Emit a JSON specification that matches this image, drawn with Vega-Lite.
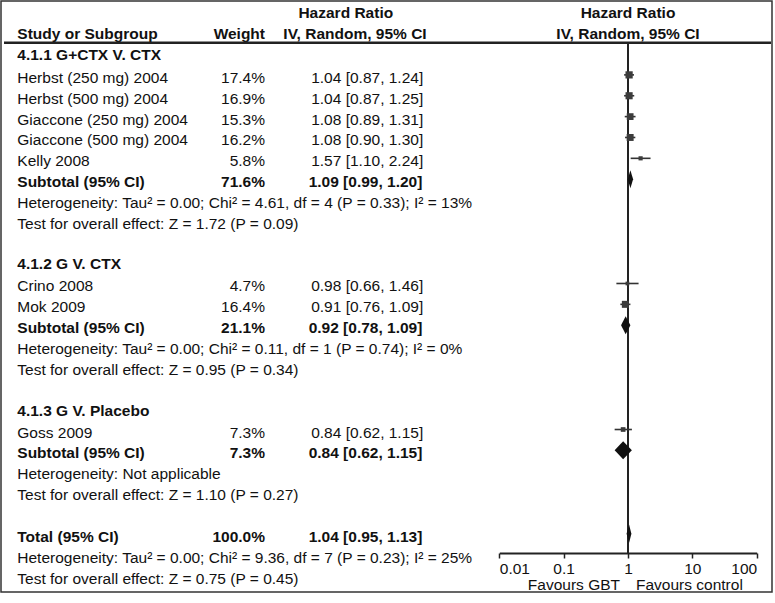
{
  "$schema": "https://vega.github.io/schema/vega-lite/v6.json",
  "width": 771,
  "height": 552,
  "autosize": {"type": "none"},
  "padding": {"left": 1, "top": 1, "right": 3, "bottom": 50},
  "background": "white",
  "config": {
    "view": {"stroke": null},
    "font": "Liberation Sans",
    "text": {"font": "Liberation Sans", "fontSize": 15.5, "color": "#111111", "baseline": "middle", "dy": 3}
  },
  "datasets": {
    "results": [
      {"row": 3, "study": "Herbst (250 mg) 2004", "weight": 0.174, "hr": 1.04, "lo": 0.87, "hi": 1.24, "ci": "1.04 [0.87, 1.24]", "kind": "study"},
      {"row": 4, "study": "Herbst (500 mg) 2004", "weight": 0.169, "hr": 1.04, "lo": 0.87, "hi": 1.25, "ci": "1.04 [0.87, 1.25]", "kind": "study"},
      {"row": 5, "study": "Giaccone (250 mg) 2004", "weight": 0.153, "hr": 1.08, "lo": 0.89, "hi": 1.31, "ci": "1.08 [0.89, 1.31]", "kind": "study"},
      {"row": 6, "study": "Giaccone (500 mg) 2004", "weight": 0.162, "hr": 1.08, "lo": 0.90, "hi": 1.30, "ci": "1.08 [0.90, 1.30]", "kind": "study"},
      {"row": 7, "study": "Kelly 2008", "weight": 0.058, "hr": 1.57, "lo": 1.10, "hi": 2.24, "ci": "1.57 [1.10, 2.24]", "kind": "study"},
      {"row": 8, "study": "Subtotal (95% CI)", "weight": 0.716, "hr": 1.09, "lo": 0.99, "hi": 1.20, "ci": "1.09 [0.99, 1.20]", "kind": "pooled"},
      {"row": 13, "study": "Crino 2008", "weight": 0.047, "hr": 0.98, "lo": 0.66, "hi": 1.46, "ci": "0.98 [0.66, 1.46]", "kind": "study"},
      {"row": 14, "study": "Mok 2009", "weight": 0.164, "hr": 0.91, "lo": 0.76, "hi": 1.09, "ci": "0.91 [0.76, 1.09]", "kind": "study"},
      {"row": 15, "study": "Subtotal (95% CI)", "weight": 0.211, "hr": 0.92, "lo": 0.78, "hi": 1.09, "ci": "0.92 [0.78, 1.09]", "kind": "pooled"},
      {"row": 20, "study": "Goss 2009", "weight": 0.073, "hr": 0.84, "lo": 0.62, "hi": 1.15, "ci": "0.84 [0.62, 1.15]", "kind": "study"},
      {"row": 21, "study": "Subtotal (95% CI)", "weight": 0.073, "hr": 0.84, "lo": 0.62, "hi": 1.15, "ci": "0.84 [0.62, 1.15]", "kind": "pooled"},
      {"row": 25, "study": "Total (95% CI)", "weight": 1.0, "hr": 1.04, "lo": 0.95, "hi": 1.13, "ci": "1.04 [0.95, 1.13]", "kind": "pooled"}
    ],
    "notes": [
      {"row": 1.9, "text": "4.1.1 G+CTX V. CTX", "style": "group"},
      {"row": 9, "text": "Heterogeneity: Tau² = 0.00; Chi² = 4.61, df = 4 (P = 0.33); I² = 13%", "style": "note"},
      {"row": 10, "text": "Test for overall effect: Z = 1.72 (P = 0.09)", "style": "note"},
      {"row": 11.93, "text": "4.1.2 G V. CTX", "style": "group"},
      {"row": 16, "text": "Heterogeneity: Tau² = 0.00; Chi² = 0.11, df = 1 (P = 0.74); I² = 0%", "style": "note"},
      {"row": 17, "text": "Test for overall effect: Z = 0.95 (P = 0.34)", "style": "note"},
      {"row": 18.95, "text": "4.1.3 G V. Placebo", "style": "group"},
      {"row": 22, "text": "Heterogeneity: Not applicable", "style": "note"},
      {"row": 23, "text": "Test for overall effect: Z = 1.10 (P = 0.27)", "style": "note"},
      {"row": 26, "text": "Heterogeneity: Tau² = 0.00; Chi² = 9.36, df = 7 (P = 0.23); I² = 25%", "style": "note"},
      {"row": 27, "text": "Test for overall effect: Z = 0.75 (P = 0.45)", "style": "note"}
    ],
    "headers": [
      {"row": -0.1, "text": "Hazard Ratio", "column": "effectTitle"},
      {"row": 0.9, "text": "IV, Random, 95% CI", "column": "effectMethod"},
      {"row": 0.9, "text": "Study or Subgroup", "column": "study"},
      {"row": 0.9, "text": "Weight", "column": "weight"}
    ],
    "favours": [
      {"side": "left", "text": "Favours GBT"},
      {"side": "right", "text": "Favours control"}
    ]
  },
  "resolve": {"scale": {"x": "independent"}, "axis": {"x": "independent"}},
  "layer": [
    {
      "layer": [
        {
          "data": {"values": [{"frame": "border"}]},
          "mark": {"type": "rect", "filled": false, "stroke": "#333333", "strokeWidth": 1.5},
          "encoding": {
            "x": {"datum": 0, "type": "quantitative", "scale": {"domain": [0, 771], "range": [0, 771], "nice": false, "zero": false}, "axis": null},
            "x2": {"datum": 771},
            "y": {"datum": -0.542, "type": "quantitative", "scale": {"domain": [-0.542, 25.92], "reverse": true, "nice": false, "zero": false}, "axis": null},
            "y2": {"datum": 27.79}
          }
        },
        {
          "data": {"name": "headers"},
          "transform": [{"filter": "datum.column === 'study'"}],
          "mark": {"type": "text", "align": "left", "fontWeight": "bold"},
          "encoding": {
            "x": {"datum": 16.3, "type": "quantitative", "scale": {"domain": [0, 771], "range": [0, 771], "nice": false, "zero": false}, "axis": null},
            "y": {"field": "row", "type": "quantitative", "scale": {"domain": [-0.542, 25.92], "reverse": true, "nice": false, "zero": false}, "axis": null},
            "text": {"field": "text"}
          }
        },
        {
          "data": {"name": "headers"},
          "transform": [{"filter": "datum.column === 'weight'"}],
          "mark": {"type": "text", "align": "right", "fontWeight": "bold"},
          "encoding": {
            "x": {"datum": 264, "type": "quantitative", "scale": {"domain": [0, 771], "range": [0, 771], "nice": false, "zero": false}, "axis": null},
            "y": {"field": "row", "type": "quantitative", "scale": {"domain": [-0.542, 25.92], "reverse": true, "nice": false, "zero": false}, "axis": null},
            "text": {"field": "text"}
          }
        },
        {
          "data": {"name": "headers"},
          "transform": [{"filter": "datum.column === 'effectTitle'"}],
          "mark": {"type": "text", "align": "center", "fontWeight": "bold"},
          "encoding": {
            "x": {"datum": 344.8, "type": "quantitative", "scale": {"domain": [0, 771], "range": [0, 771], "nice": false, "zero": false}, "axis": null},
            "y": {"field": "row", "type": "quantitative", "scale": {"domain": [-0.542, 25.92], "reverse": true, "nice": false, "zero": false}, "axis": null},
            "text": {"field": "text"}
          }
        },
        {
          "data": {"name": "headers"},
          "transform": [{"filter": "datum.column === 'effectMethod'"}],
          "mark": {"type": "text", "align": "center", "fontWeight": "bold"},
          "encoding": {
            "x": {"datum": 354, "type": "quantitative", "scale": {"domain": [0, 771], "range": [0, 771], "nice": false, "zero": false}, "axis": null},
            "y": {"field": "row", "type": "quantitative", "scale": {"domain": [-0.542, 25.92], "reverse": true, "nice": false, "zero": false}, "axis": null},
            "text": {"field": "text"}
          }
        },
        {
          "data": {"values": [{"line": "header"}]},
          "mark": {"type": "rule", "strokeWidth": 2.5, "color": "#222222"},
          "encoding": {
            "x": {"datum": 3, "type": "quantitative", "scale": {"domain": [0, 771], "range": [0, 771], "nice": false, "zero": false}, "axis": null},
            "x2": {"datum": 770},
            "y": {"datum": 1.457, "type": "quantitative", "scale": {"domain": [-0.542, 25.92], "reverse": true, "nice": false, "zero": false}, "axis": null}
          }
        },
        {
          "data": {"name": "results"},
          "transform": [{"filter": "datum.kind === 'study'"}],
          "mark": {"type": "text", "align": "left"},
          "encoding": {
            "x": {"datum": 16.3, "type": "quantitative", "scale": {"domain": [0, 771], "range": [0, 771], "nice": false, "zero": false}, "axis": null},
            "y": {"field": "row", "type": "quantitative", "scale": {"domain": [-0.542, 25.92], "reverse": true, "nice": false, "zero": false}, "axis": null},
            "text": {"field": "study"}
          }
        },
        {
          "data": {"name": "results"},
          "transform": [{"filter": "datum.kind === 'pooled'"}],
          "mark": {"type": "text", "align": "left", "fontWeight": "bold"},
          "encoding": {
            "x": {"datum": 16.3, "type": "quantitative", "scale": {"domain": [0, 771], "range": [0, 771], "nice": false, "zero": false}, "axis": null},
            "y": {"field": "row", "type": "quantitative", "scale": {"domain": [-0.542, 25.92], "reverse": true, "nice": false, "zero": false}, "axis": null},
            "text": {"field": "study"}
          }
        },
        {
          "data": {"name": "results"},
          "transform": [{"filter": "datum.kind === 'study'"}],
          "mark": {"type": "text", "align": "right"},
          "encoding": {
            "x": {"datum": 264, "type": "quantitative", "scale": {"domain": [0, 771], "range": [0, 771], "nice": false, "zero": false}, "axis": null},
            "y": {"field": "row", "type": "quantitative", "scale": {"domain": [-0.542, 25.92], "reverse": true, "nice": false, "zero": false}, "axis": null},
            "text": {"field": "weight", "type": "quantitative", "format": ".1%"}
          }
        },
        {
          "data": {"name": "results"},
          "transform": [{"filter": "datum.kind === 'pooled'"}],
          "mark": {"type": "text", "align": "right", "fontWeight": "bold"},
          "encoding": {
            "x": {"datum": 264, "type": "quantitative", "scale": {"domain": [0, 771], "range": [0, 771], "nice": false, "zero": false}, "axis": null},
            "y": {"field": "row", "type": "quantitative", "scale": {"domain": [-0.542, 25.92], "reverse": true, "nice": false, "zero": false}, "axis": null},
            "text": {"field": "weight", "type": "quantitative", "format": ".1%"}
          }
        },
        {
          "data": {"name": "results"},
          "transform": [{"filter": "datum.kind === 'study'"}],
          "mark": {"type": "text", "align": "center"},
          "encoding": {
            "x": {"datum": 366.2, "type": "quantitative", "scale": {"domain": [0, 771], "range": [0, 771], "nice": false, "zero": false}, "axis": null},
            "y": {"field": "row", "type": "quantitative", "scale": {"domain": [-0.542, 25.92], "reverse": true, "nice": false, "zero": false}, "axis": null},
            "text": {"field": "ci"}
          }
        },
        {
          "data": {"name": "results"},
          "transform": [{"filter": "datum.kind === 'pooled'"}],
          "mark": {"type": "text", "align": "center", "fontWeight": "bold"},
          "encoding": {
            "x": {"datum": 364.5, "type": "quantitative", "scale": {"domain": [0, 771], "range": [0, 771], "nice": false, "zero": false}, "axis": null},
            "y": {"field": "row", "type": "quantitative", "scale": {"domain": [-0.542, 25.92], "reverse": true, "nice": false, "zero": false}, "axis": null},
            "text": {"field": "ci"}
          }
        },
        {
          "data": {"name": "notes"},
          "transform": [{"filter": "datum.style === 'group'"}],
          "mark": {"type": "text", "align": "left", "fontWeight": "bold"},
          "encoding": {
            "x": {"datum": 16.3, "type": "quantitative", "scale": {"domain": [0, 771], "range": [0, 771], "nice": false, "zero": false}, "axis": null},
            "y": {"field": "row", "type": "quantitative", "scale": {"domain": [-0.542, 25.92], "reverse": true, "nice": false, "zero": false}, "axis": null},
            "text": {"field": "text"}
          }
        },
        {
          "data": {"name": "notes"},
          "transform": [{"filter": "datum.style === 'note'"}],
          "mark": {"type": "text", "align": "left"},
          "encoding": {
            "x": {"datum": 16.3, "type": "quantitative", "scale": {"domain": [0, 771], "range": [0, 771], "nice": false, "zero": false}, "axis": null},
            "y": {"field": "row", "type": "quantitative", "scale": {"domain": [-0.542, 25.92], "reverse": true, "nice": false, "zero": false}, "axis": null},
            "text": {"field": "text"}
          }
        }
      ]
    },
    {
      "layer": [
        {
          "data": {"values": [{"nullEffect": 1}]},
          "mark": {"type": "rule", "strokeWidth": 2, "color": "#222222"},
          "encoding": {
            "x": {
              "field": "nullEffect", "type": "quantitative", "title": null,
              "scale": {"type": "log", "domain": [0.01, 100], "range": [498.3, 755.7], "nice": false},
              "axis": {
                "orient": "bottom", "values": [0.01, 0.1, 1, 10, 100], "format": "~g", "labelFlush": true, "title": null,
                "grid": false, "domain": true, "domainColor": "#222222", "domainWidth": 2,
                "ticks": true, "tickColor": "#222222", "tickWidth": 1.5, "tickSize": 5,
                "labelFont": "Liberation Sans", "labelFontSize": 15.5, "labelFontWeight": "normal", "labelColor": "#111111", "labelPadding": 3
              }
            },
            "y": {"datum": 1.457, "type": "quantitative", "scale": {"domain": [-0.542, 25.92], "reverse": true, "nice": false, "zero": false}, "axis": null},
            "y2": {"datum": 25.92}
          }
        },
        {
          "data": {"name": "results"},
          "transform": [{"filter": "datum.kind === 'study'"}],
          "mark": {"type": "rule", "strokeWidth": 1.6, "color": "#333333"},
          "encoding": {
            "x": {"field": "lo", "type": "quantitative", "title": null, "scale": {"type": "log", "domain": [0.01, 100], "range": [498.3, 755.7], "nice": false}},
            "x2": {"field": "hi"},
            "y": {"field": "row", "type": "quantitative", "scale": {"domain": [-0.542, 25.92], "reverse": true, "nice": false, "zero": false}, "axis": null}
          }
        },
        {
          "data": {"name": "results"},
          "transform": [{"filter": "datum.kind === 'study'"}],
          "mark": {"type": "point", "shape": "square", "filled": true, "opacity": 1, "color": "#3c3c3c"},
          "encoding": {
            "x": {"field": "hr", "type": "quantitative", "title": null, "scale": {"type": "log", "domain": [0.01, 100], "range": [498.3, 755.7], "nice": false}},
            "y": {"field": "row", "type": "quantitative", "scale": {"domain": [-0.542, 25.92], "reverse": true, "nice": false, "zero": false}, "axis": null},
            "size": {"field": "weight", "type": "quantitative", "scale": {"domain": [0, 0.2], "range": [0, 60]}, "legend": null}
          }
        },
        {
          "data": {"name": "results"},
          "transform": [
            {"filter": "datum.kind === 'pooled'"},
            {"fold": ["lo", "hr", "hi"], "as": ["bound", "value"]}
          ],
          "mark": {
            "type": "area", "color": "#111111", "opacity": 1,
            "yOffset": {"expr": "datum.bound === 'hr' ? -9 : 0"},
            "y2Offset": {"expr": "datum.bound === 'hr' ? 9 : 0"}
          },
          "encoding": {
            "x": {"field": "value", "type": "quantitative", "title": null, "scale": {"type": "log", "domain": [0.01, 100], "range": [498.3, 755.7], "nice": false}},
            "y": {"field": "row", "type": "quantitative", "scale": {"domain": [-0.542, 25.92], "reverse": true, "nice": false, "zero": false}, "axis": null},
            "y2": {"field": "row"},
            "detail": {"field": "row", "type": "nominal"}
          }
        },
        {
          "data": {"name": "headers"},
          "transform": [{"filter": "datum.column === 'effectTitle' || datum.column === 'effectMethod'"}],
          "mark": {"type": "text", "align": "center", "fontWeight": "bold"},
          "encoding": {
            "x": {"datum": 1, "type": "quantitative", "title": null, "scale": {"type": "log", "domain": [0.01, 100], "range": [498.3, 755.7], "nice": false}},
            "y": {"field": "row", "type": "quantitative", "scale": {"domain": [-0.542, 25.92], "reverse": true, "nice": false, "zero": false}, "axis": null},
            "text": {"field": "text"}
          }
        },
        {
          "data": {"name": "favours"},
          "transform": [{"filter": "datum.side === 'left'"}],
          "mark": {"type": "text", "align": "right", "dx": -8},
          "encoding": {
            "x": {"datum": 1, "type": "quantitative", "title": null, "scale": {"type": "log", "domain": [0.01, 100], "range": [498.3, 755.7], "nice": false}},
            "y": {"datum": 27.33, "type": "quantitative", "scale": {"domain": [-0.542, 25.92], "reverse": true, "nice": false, "zero": false}, "axis": null},
            "text": {"field": "text"}
          }
        },
        {
          "data": {"name": "favours"},
          "transform": [{"filter": "datum.side === 'right'"}],
          "mark": {"type": "text", "align": "left", "dx": 8},
          "encoding": {
            "x": {"datum": 1, "type": "quantitative", "title": null, "scale": {"type": "log", "domain": [0.01, 100], "range": [498.3, 755.7], "nice": false}},
            "y": {"datum": 27.33, "type": "quantitative", "scale": {"domain": [-0.542, 25.92], "reverse": true, "nice": false, "zero": false}, "axis": null},
            "text": {"field": "text"}
          }
        }
      ]
    }
  ]
}
